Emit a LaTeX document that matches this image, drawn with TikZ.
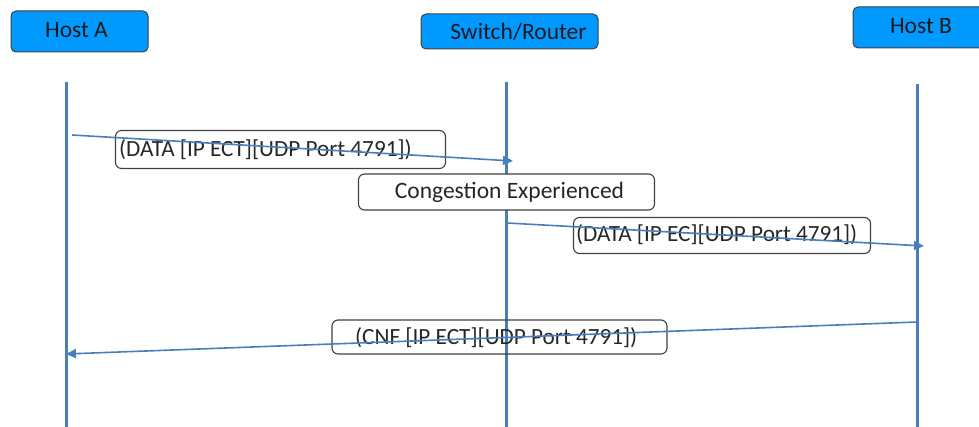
\documentclass[tikz,border=0pt]{standalone}
\usepackage{fontspec}
\setmainfont{Carlito}
\usetikzlibrary{arrows.meta}
\definecolor{lineblue}{HTML}{4A7EBB}
\definecolor{boxblue}{HTML}{0099FF}
\definecolor{edgegray}{HTML}{404040}
\tikzset{
  hostbox/.style={draw=edgegray, fill=boxblue, rounded corners=5pt, line width=1pt,
    inner sep=0pt, font=\fontsize{23.5}{25}\selectfont, text=black!90},
  lifeline/.style={draw=lineblue, line width=3pt},
  msg/.style={draw=lineblue, line width=1.6pt, -{Triangle[length=10pt,width=9pt]}},
  labelbox/.style={draw=edgegray, rounded corners=6pt, line width=1.1pt, inner sep=0pt},
  labeltext/.style={anchor=west, inner sep=0pt, font=\fontsize{23.2}{25}\selectfont, text=black!85}
}
\begin{document}
\begin{tikzpicture}[x=1pt,y=-1pt]
\useasboundingbox (0,0) rectangle (979,427);
\clip (0,0) rectangle (979,427);
% host boxes
\node[hostbox, minimum width=137pt, minimum height=41pt] (ha) at (79.5,31.5) {\raisebox{3pt}{Host A}\hspace*{6pt}};
\node[hostbox, minimum width=177pt, minimum height=35pt] (sw) at (509.5,31.5) {\hspace*{18pt}Switch/Router};
\node[hostbox, minimum width=140pt, minimum height=41pt] (hb) at (923,27.5) {\raisebox{3pt}{Host B}\hspace*{4pt}};
% lifelines
\coordinate (hat) at (66,82);   \coordinate (hab) at (66,427);
\coordinate (swt) at (506,82);  \coordinate (swb) at (506,427);
\coordinate (hbt) at (917,84);  \coordinate (hbb) at (917,427);
\draw[lifeline] (hat) -- (hab);
\draw[lifeline] (swt) -- (swb);
\draw[lifeline] (hbt) -- (hbb);
% congestion box (covers switch lifeline)
\node[labelbox, fill=white, minimum width=296pt, minimum height=36pt,
  font=\fontsize{23.5}{25}\selectfont, text=black!85] (ce) at (506.5,192) {\hspace*{6pt}Congestion Experienced};
% label boxes
\node[labelbox, minimum width=330pt, minimum height=38pt] (l1) at (280.5,149.5) {};
\node[labeltext] (t1) at (119,150) {(DATA [IP ECT][UDP Port 4791])};
\node[labelbox, minimum width=297pt, minimum height=36pt] (l2) at (722,235.5) {};
\node[labeltext] (t2) at (576,235) {(DATA [IP EC][UDP Port 4791])};
\node[labelbox, minimum width=335pt, minimum height=34pt] (l3) at (499.5,337) {};
\node[labeltext] (t3) at (355,338) {(CNF [IP ECT][UDP Port 4791])};
% messages
\coordinate (m1s) at (72,135);  \coordinate (m1e) at (513,161);
\coordinate (m2s) at (507,223); \coordinate (m2e) at (924,246);
\coordinate (m3s) at (917,322); \coordinate (m3e) at (66,354);
\draw[msg] (m1s) -- (m1e);
\draw[msg] (m2s) -- (m2e);
\draw[msg] (m3s) -- (m3e);
\end{tikzpicture}
\end{document}
